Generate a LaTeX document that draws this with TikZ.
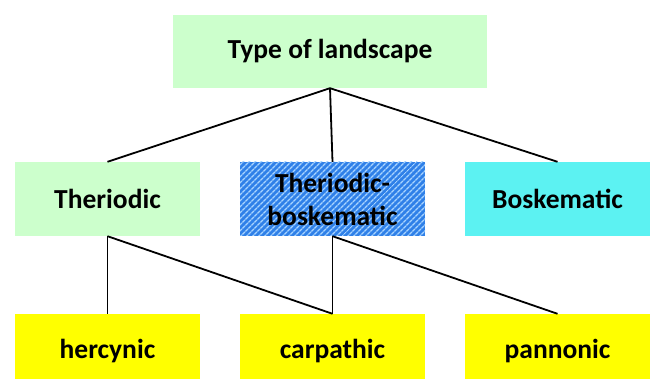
\documentclass[tikz,border=0pt]{standalone}
\usepackage{fontspec}
\setmainfont{Carlito}
\usetikzlibrary{patterns.meta}
\definecolor{lgreen}{HTML}{CCFFCC}
\definecolor{cyanbox}{HTML}{5CF2F2}
\definecolor{yel}{HTML}{FFFF00}
\definecolor{hblue}{HTML}{2F80E8}
\definecolor{hlight}{HTML}{A8D4FF}
\begin{document}
\begin{tikzpicture}[x=1pt,y=1pt,
  box/.style={minimum width=185pt,minimum height=74pt,inner sep=0pt,
    font=\fontsize{27.5}{33}\selectfont\bfseries,align=center},
  conn/.style={draw=black,line width=1.8pt}]
\useasboundingbox (0,0) rectangle (652,379);
\node[box,fill=lgreen,minimum width=314pt,minimum height=73pt] (top) at (330,327.5) {Type of landscape};
\node[box,fill=lgreen] (ther) at (107.5,180) {Theriodic};
\node[box,fill=hblue,postaction={pattern={Lines[angle=45,distance=4pt,line width=1.5pt]},pattern color=hlight}] (tb) at (332.5,180) {};
\node[box] at (tb.center) {Theriodic-\\boskematic};
\node[box,fill=cyanbox] (bosk) at (557.5,180) {Boskematic};
\node[box,fill=yel] (herc) at (107.5,28) {hercynic};
\node[box,fill=yel] (carp) at (332.5,28) {carpathic};
\node[box,fill=yel] (pann) at (557.5,28) {pannonic};
\draw[conn] (top.south) -- (ther.north);
\draw[conn] (top.south) -- (tb.north);
\draw[conn] (top.south) -- (bosk.north);
\draw[conn] (ther.south) -- (herc.north);
\draw[conn] (ther.south) -- (carp.north);
\draw[conn] (tb.south) -- (carp.north);
\draw[conn] (tb.south) -- (pann.north);
\end{tikzpicture}
\end{document}
